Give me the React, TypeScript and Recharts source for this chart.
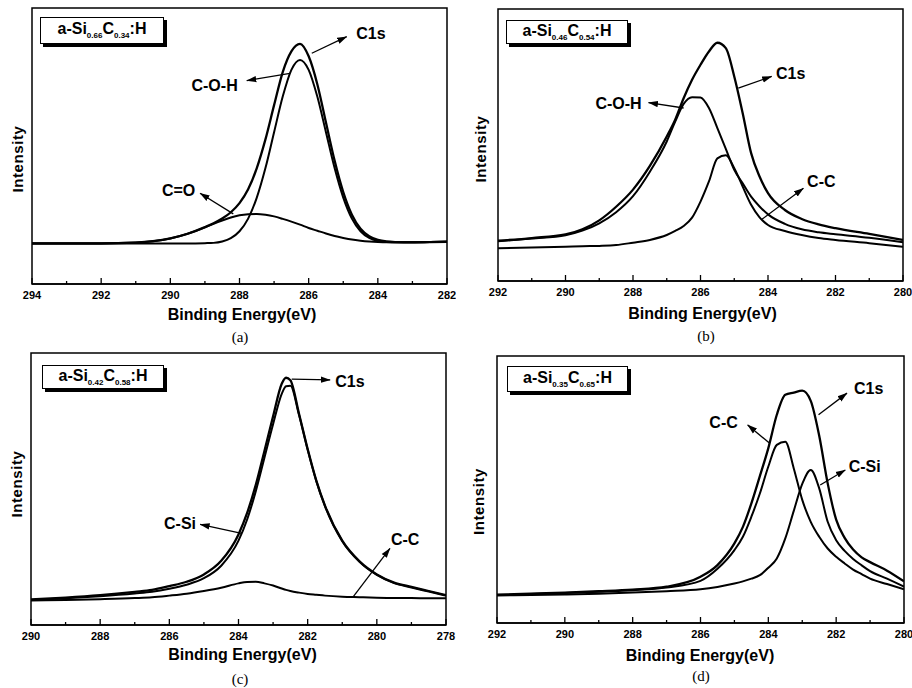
import React from 'react';
import { LineChart, Line, XAxis, YAxis, ReferenceArea, ReferenceLine, ReferenceDot } from 'recharts';

// (a) a-Si0.66C0.34:H
const energyA = [294, 293, 292, 291, 290.5, 290, 289.5, 289, 288.75, 288.5, 288.25, 288, 287.75, 287.5, 287.25, 287, 286.75, 286.5, 286.25, 286, 285.75, 285.5, 285.25, 285, 284.75, 284.5, 284.25, 284, 283.75, 283.5, 283, 282.5, 282];
const c1sA = [14.7, 14.7, 14.7, 15.0, 15.5, 16.5, 18.2, 20.6, 22.0, 23.7, 26.0, 29.3, 34.3, 42.0, 52.4, 64.8, 76.8, 84.3, 87.0, 82.5, 72.4, 58.5, 44.7, 33.3, 25.1, 20.0, 17.3, 16.0, 15.4, 15.2, 15.1, 15.2, 15.3];
const cohA = [14.7, 14.7, 14.7, 14.7, 14.7, 14.7, 14.7, 14.8, 14.9, 15.4, 16.6, 19.1, 23.7, 31.3, 42.0, 55.0, 67.9, 77.6, 81.2, 77.6, 67.9, 55.0, 42.0, 31.3, 23.7, 19.1, 16.7, 15.6, 15.2, 15.1, 15.1, 15.2, 15.3];
const coA = [14.7, 14.7, 14.7, 15.0, 15.5, 16.5, 18.2, 20.5, 21.8, 23.0, 24.1, 24.9, 25.3, 25.4, 25.1, 24.5, 23.6, 22.6, 21.5, 20.3, 19.3, 18.3, 17.4, 16.7, 16.1, 15.7, 15.4, 15.2, 15.1, 15.1, 15.1, 15.2, 15.3];
const ticksA = [282, 283, 284, 285, 286, 287, 288, 289, 290, 291, 292, 293, 294];

// (b) a-Si0.46C0.54:H
const energyB = [292, 291, 290, 289.5, 289, 288.5, 288, 287.5, 287, 286.75, 286.5, 286.25, 286, 285.75, 285.5, 285.25, 285, 284.75, 284.5, 284.25, 284, 283.5, 283, 282.5, 282, 281, 280];
const c1sB = [14.8, 15.8, 17.1, 19.0, 22.3, 27.3, 33.6, 42.3, 53.1, 59.3, 67.2, 74.0, 79.5, 84.4, 87.6, 85.6, 75.2, 61.7, 47.0, 38.4, 32.3, 26.1, 22.8, 20.8, 19.4, 17.3, 15.1];
const cohB = [14.6, 15.6, 16.8, 18.5, 21.2, 25.3, 31.2, 40.2, 51.3, 58.6, 65.1, 67.6, 67.5, 63.6, 56.2, 48.6, 40.9, 35.9, 31.0, 27.4, 24.5, 21.0, 19.0, 17.9, 17.2, 15.9, 14.2];
const ccB = [12.0, 12.3, 12.6, 12.8, 12.9, 13.2, 14.1, 15.1, 16.9, 18.4, 20.2, 23.3, 29.2, 36.6, 45.1, 46.2, 41.5, 34.7, 28.0, 23.4, 20.6, 18.4, 16.9, 15.8, 15.1, 13.9, 12.6];
const ticksB = [280, 281, 282, 283, 284, 285, 286, 287, 288, 289, 290, 291, 292];

// (c) a-Si0.42C0.58:H
const energyC = [290, 289, 288, 287, 286.5, 286, 285.5, 285, 284.5, 284, 283.75, 283.5, 283.25, 283, 282.75, 282.625, 282.5, 282.25, 282, 281.75, 281.5, 281, 280.5, 280, 279.5, 279, 278.5, 278];
const c1sC = [9.4, 10.1, 11.0, 12.2, 12.9, 14.3, 15.9, 18.6, 23.6, 33.3, 41.2, 51.5, 64.0, 76.7, 88.7, 90.9, 90.0, 77.7, 64.7, 53.1, 43.9, 31.0, 23.4, 18.6, 15.6, 14.0, 12.5, 11.0];
const csiC = [9.2, 9.8, 10.6, 11.6, 12.2, 13.3, 14.8, 17.2, 21.8, 31.0, 38.8, 49.2, 61.5, 73.8, 85.0, 87.8, 88.0, 77.2, 64.4, 52.9, 43.7, 30.8, 23.2, 18.4, 15.4, 13.8, 12.3, 10.8];
const ccC = [9.0, 9.2, 9.5, 9.9, 10.2, 10.8, 11.5, 12.5, 13.7, 15.3, 15.8, 15.9, 15.3, 14.5, 13.4, 12.9, 12.5, 11.9, 11.4, 11.1, 10.8, 10.4, 10.2, 10.0, 9.9, 9.9, 9.8, 9.8];
const ticksC = [278, 279, 280, 281, 282, 283, 284, 285, 286, 287, 288, 289, 290];

// (d) a-Si0.35C0.65:H
const energyD = [292, 291, 290, 289, 288, 287, 286, 285.5, 285, 284.75, 284.5, 284.25, 284, 283.75, 283.5, 283.25, 283, 282.75, 282.5, 282.25, 282, 281.75, 281.5, 281.25, 281, 280.5, 280];
const c1sD = [10.6, 11.0, 11.4, 11.9, 12.5, 13.6, 17.3, 21.7, 29.8, 36.0, 44.8, 55.0, 65.5, 78.0, 85.5, 86.3, 87.0, 83.2, 70.1, 52.3, 38.7, 31.9, 27.5, 24.6, 22.8, 19.6, 15.6];
const ccD = [10.5, 10.8, 11.2, 11.7, 12.3, 13.3, 15.8, 20.3, 27.3, 32.3, 39.8, 48.5, 58.6, 66.7, 67.9, 57.9, 46.1, 37.9, 32.3, 27.9, 24.8, 22.3, 20.0, 18.3, 16.6, 14.6, 12.6];
const csiD = [10.3, 10.5, 10.7, 11.0, 11.4, 11.9, 12.6, 13.5, 14.8, 15.6, 16.6, 17.9, 20.7, 24.2, 31.7, 42.0, 52.1, 57.3, 50.4, 37.9, 31.0, 27.0, 24.0, 21.6, 19.4, 16.6, 13.6];
const ticksD = [280, 281, 282, 283, 284, 285, 286, 287, 288, 289, 290, 291, 292];

const SANS = '"Liberation Sans", Arial, Helvetica, sans-serif';
const NARROW = '"Liberation Sans Narrow", "Arial Narrow", "Liberation Sans", Arial, sans-serif';
const SERIF = '"Liberation Serif", "Times New Roman", serif';

type Anno = { text: string; lx: number; ly: number; x1: number; y1: number; x2: number; y2: number };

const rowsOf = (energy: number[], a: number[], b: number[], c: number[]) =>
  energy.map((e, i) => ({ e, c1s: a[i], p1: b[i], p2: c[i] }));

const panels = [
  {
    key: 'a', caption: '(a)', sub: ['0.66', '0.34'],
    left: 0, top: 0, margin: { top: 8, right: 9, bottom: 20, left: 0 }, yWidth: 32,
    domain: [282, 294], ticks: ticksA, rows: rowsOf(energyA, c1sA, cohA, coA),
    intensity: { x: 23, y: 159 }, titleX: 242, titleOff: 24, cap: { x: 240, y: 337 },
    box: { left: 40, top: 17, w: 124, h: 27 },
    annos: [
      { text: 'C1s', lx: 284.2, ly: 90.8, x1: 285.91, y1: 83.6, x2: 284.9, y2: 89.6 },
      { text: 'C-O-H', lx: 288.72, ly: 72.0, x1: 286.54, y1: 76.3, x2: 287.79, y2: 73.7 },
      { text: 'C=O', lx: 289.76, ly: 33.9, x1: 288.18, y1: 25.4, x2: 289.14, y2: 32.9 },
    ] as Anno[],
  },
  {
    key: 'b', caption: '(b)', sub: ['0.46', '0.54'],
    left: 456, top: 0, margin: { top: 9, right: 9, bottom: 23, left: 0 }, yWidth: 42,
    domain: [280, 292], ticks: ticksB, rows: rowsOf(energyB, c1sB, cohB, ccB),
    intensity: { x: 29.5, y: 149 }, titleX: 246.5, titleOff: 26, cap: { x: 250, y: 336 },
    box: { left: 50, top: 20, w: 122, h: 24 },
    annos: [
      { text: 'C1s', lx: 283.33, ly: 76.2, x1: 284.88, y1: 70.9, x2: 283.89, y2: 75.2 },
      { text: 'C-O-H', lx: 288.43, ly: 65.1, x1: 286.5, y1: 63.6, x2: 287.54, y2: 65.6 },
      { text: 'C-C', lx: 282.42, ly: 36.5, x1: 284.18, y1: 22.7, x2: 282.95, y2: 34.1 },
    ] as Anno[],
  },
  {
    key: 'c', caption: '(c)', sub: ['0.42', '0.58'],
    left: 0, top: 344, margin: { top: 9, right: 10, bottom: 23, left: 0 }, yWidth: 31,
    domain: [278, 290], ticks: ticksC, rows: rowsOf(energyC, c1sC, csiC, ccC),
    intensity: { x: 22, y: 140 }, titleX: 242.5, titleOff: 23, cap: { x: 240, y: 335 },
    box: { left: 42, top: 21, w: 122, h: 24 },
    annos: [
      { text: 'C1s', lx: 280.78, ly: 89.5, x1: 282.46, y1: 90.4, x2: 281.35, y2: 90.1 },
      { text: 'C-Si', lx: 285.69, ly: 37.4, x1: 283.91, y1: 33.7, x2: 285.11, y2: 37.0 },
      { text: 'C-C', lx: 279.18, ly: 31.3, x1: 280.68, y1: 10.4, x2: 279.62, y2: 28.2 },
    ] as Anno[],
  },
  {
    key: 'd', caption: '(d)', sub: ['0.35', '0.65'],
    left: 456, top: 344, margin: { top: 12, right: 8, bottom: 25, left: 0 }, yWidth: 41,
    domain: [280, 292], ticks: ticksD, rows: rowsOf(energyD, c1sD, ccD, csiD),
    intensity: { x: 28, y: 157.5 }, titleX: 244, titleOff: 26, cap: { x: 245, y: 332 },
    box: { left: 51, top: 22, w: 121, h: 26 },
    annos: [
      { text: 'C1s', lx: 281.04, ly: 87.7, x1: 282.52, y1: 78.0, x2: 281.68, y2: 86.1 },
      { text: 'C-C', lx: 285.32, ly: 75.0, x1: 283.96, y1: 67.3, x2: 284.61, y2: 74.2 },
      { text: 'C-Si', lx: 281.16, ly: 58.6, x1: 282.47, y1: 51.7, x2: 281.73, y2: 57.3 },
    ] as Anno[],
  },
];

const W = 456;
const H = 344;
const X_HEIGHT = 40;

const EnergyTick = (props: any) => {
  const { x, y, payload } = props;
  const major = payload.value % 2 === 0;
  return (
    <g>
      <line x1={x} x2={x} y1={y} y2={y - (major ? 6 : 3)} stroke="#000" strokeWidth={1.3} />
      {major && (
        <text x={x} y={y + 15} textAnchor="middle" fontFamily={NARROW} fontWeight="bold" fontSize={11} fill="#000">
          {payload.value}
        </text>
      )}
    </g>
  );
};

const XpsPanel = ({ p }: { p: (typeof panels)[number] }) => {
  const plotBottom = H - p.margin.bottom - X_HEIGHT;
  return (
    <div style={{ position: 'absolute', left: p.left, top: p.top, width: W, height: H }}>
      <LineChart width={W} height={H} data={p.rows} margin={p.margin}>
        <XAxis
          dataKey="e"
          type="number"
          domain={p.domain}
          reversed
          allowDataOverflow
          ticks={p.ticks}
          interval={0}
          height={X_HEIGHT}
          tickSize={0}
          tickMargin={0}
          tickLine={false}
          axisLine={{ stroke: '#000', strokeWidth: 1.5 }}
          tick={<EnergyTick />}
          label={{
            content: () => (
              <text x={p.titleX} y={plotBottom + p.titleOff + 11.5} textAnchor="middle" fontFamily={SANS} fontWeight="bold" fontSize={16} fill="#000">
                Binding Energy(eV)
              </text>
            ),
          }}
        />
        <YAxis
          type="number"
          domain={[0, 100]}
          width={p.yWidth}
          tick={false}
          tickLine={false}
          axisLine={false}
          label={{
            content: () => (
              <text
                x={p.intensity.x}
                y={p.intensity.y}
                transform={`rotate(-90 ${p.intensity.x} ${p.intensity.y})`}
                textAnchor="middle"
                fontFamily={SANS}
                fontWeight="bold"
                fontSize={15}
                letterSpacing={0.6}
                fill="#000"
              >
                Intensity
              </text>
            ),
          }}
        />
        <ReferenceArea x1={p.domain[0]} x2={p.domain[1]} y1={0} y2={100} fill="none" stroke="#000" strokeWidth={1.5} ifOverflow="visible" />
        <Line type="monotone" dataKey="p2" stroke="#000" strokeWidth={2} dot={false} isAnimationActive={false} />
        <Line type="monotone" dataKey="p1" stroke="#000" strokeWidth={2} dot={false} isAnimationActive={false} />
        <Line type="monotone" dataKey="c1s" stroke="#000" strokeWidth={2.3} dot={false} isAnimationActive={false} />
        {p.annos.map((a) => (
          <ReferenceLine
            key={`l-${a.text}`}
            segment={[{ x: a.x1, y: a.y1 }, { x: a.x2, y: a.y2 }]}
            ifOverflow="visible"
            shape={(sp: any) => (
              <line x1={sp.x1} y1={sp.y1} x2={sp.x2} y2={sp.y2} stroke="#000" strokeWidth={1.3} markerEnd="url(#xpsArrow)" />
            )}
          />
        ))}
        {p.annos.map((a) => (
          <ReferenceDot
            key={`t-${a.text}`}
            x={a.lx}
            y={a.ly}
            r={2}
            ifOverflow="visible"
            shape={(dp: any) => (
              <text x={dp.cx} y={dp.cy} textAnchor="middle" dominantBaseline="central" fontFamily={SANS} fontWeight="bold" fontSize={16} fill="#000">
                {a.text}
              </text>
            )}
          />
        ))}
      </LineChart>
      <div
        style={{
          position: 'absolute',
          left: p.box.left,
          top: p.box.top,
          width: p.box.w,
          height: p.box.h,
          boxSizing: 'border-box',
          border: '1.5px solid #000',
          boxShadow: '3px 3px 0 #000',
          background: '#fff',
          display: 'flex',
          alignItems: 'center',
          justifyContent: 'center',
          fontFamily: SANS,
          fontWeight: 'bold',
          fontSize: 16,
          color: '#000',
          whiteSpace: 'nowrap',
        }}
      >
        <span>
          a-Si<sub style={{ fontSize: 8 }}>{p.sub[0]}</sub>C<sub style={{ fontSize: 8 }}>{p.sub[1]}</sub>:H
        </span>
      </div>
      <div
        style={{
          position: 'absolute',
          left: p.cap.x - 30,
          top: p.cap.y - 9,
          width: 60,
          textAlign: 'center',
          fontFamily: SERIF,
          fontSize: 15,
          lineHeight: '18px',
          color: '#000',
        }}
      >
        {p.caption}
      </div>
    </div>
  );
};

export default function App() {
  return (
    <div style={{ position: 'absolute', left: 0, top: 0, width: 912, height: 688, background: '#fff', overflow: 'hidden' }}>
      <svg width={0} height={0} style={{ position: 'absolute' }}>
        <defs>
          <marker id="xpsArrow" markerWidth={10} markerHeight={8} refX={9.5} refY={4} orient="auto" markerUnits="userSpaceOnUse">
            <path d="M0,0.8 L10,4 L0,7.2 z" fill="#000" />
          </marker>
        </defs>
      </svg>
      {panels.map((p) => (
        <XpsPanel key={p.key} p={p} />
      ))}
    </div>
  );
}
